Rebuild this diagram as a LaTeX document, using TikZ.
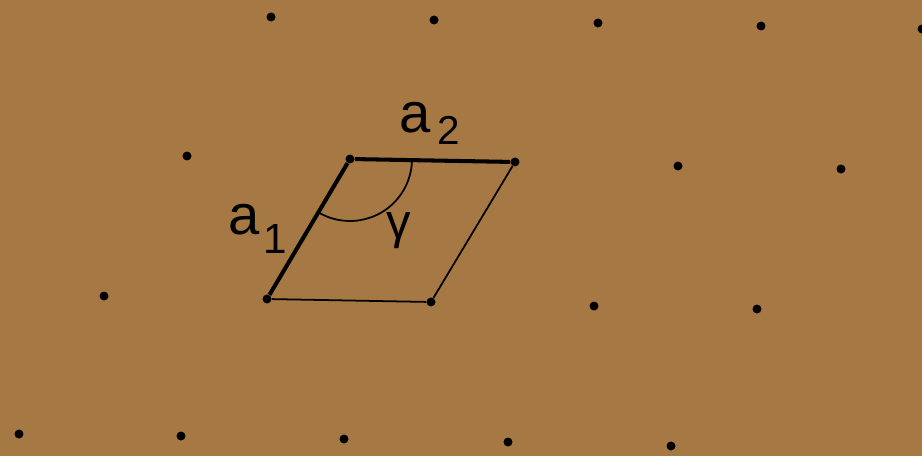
\documentclass[tikz,border=0pt]{standalone}
\usepackage{fontspec}
\setmainfont{Liberation Sans}
\usetikzlibrary{angles,
                positioning}
\definecolor{soil}{RGB}{166,120,67}

\begin{document}
\begin{tikzpicture}[
        x=0.02cm, y=-0.02cm,
        site/.style={circle, fill=black, inner sep=0pt, minimum size=0.18cm},
        basis/.style={line width=2.3pt},
        edge/.style={line width=1pt},
        vec/.style={inner sep=0pt, font=\fontsize{32}{32}\selectfont},
        ang/.style={inner sep=0pt, font=\fontsize{28}{28}\selectfont}
        ]

        \useasboundingbox (0,0) rectangle (922,456);
        \fill [soil] (0,0) rectangle (922,456);

        \node (site-1-1) [site] at (271,17)  {};
        \node (site-1-2) [site] at (434,20)  {};
        \node (site-1-3) [site] at (598,23)  {};
        \node (site-1-4) [site] at (761,26)  {};
        \node (site-1-5) [site] at (922,29)  {};
        \node (site-2-1) [site] at (187,156) {};
        \node (site-2-2) [site] at (350,159) {};
        \node (site-2-3) [site] at (515,162) {};
        \node (site-2-4) [site] at (678,166) {};
        \node (site-2-5) [site] at (841,169) {};
        \node (site-3-1) [site] at (104,296) {};
        \node (site-3-2) [site] at (267,299) {};
        \node (site-3-3) [site] at (431,302) {};
        \node (site-3-4) [site] at (594,306) {};
        \node (site-3-5) [site] at (757,309) {};
        \node (site-4-1) [site] at (19,434)  {};
        \node (site-4-2) [site] at (181,436) {};
        \node (site-4-3) [site] at (344,439) {};
        \node (site-4-4) [site] at (508,442) {};
        \node (site-4-5) [site] at (671,446) {};

        \draw [edge] (site-3-2) -- (site-3-3) -- (site-2-3);
        \draw [basis] (site-3-2) -- node[vec, left=0.4cm] {a\kern2pt\raisebox{-11pt}{\fontsize{24}{24}\selectfont 1}} (site-2-2);
        \draw [basis] (site-2-2) -- node[vec, above=0.28cm, xshift=-0.06cm] {a\kern4pt\raisebox{-7pt}{\fontsize{23}{23}\selectfont 2}} (site-2-3);

        \pic [draw, edge, angle radius=1.24cm] {angle = site-3-2--site-2-2--site-2-3};
        \node (gamma) [ang] at (399,231) {γ};

    \end{tikzpicture}
\end{document}
